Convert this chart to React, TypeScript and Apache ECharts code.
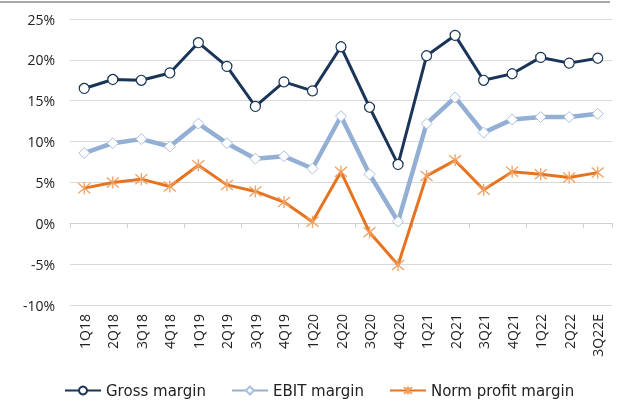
import React, { useEffect, useRef } from "react";
import * as echarts from "echarts";

const categories = ["1Q18","2Q18","3Q18","4Q18","1Q19","2Q19","3Q19","4Q19","1Q20","2Q20","3Q20","4Q20","1Q21","2Q21","3Q21","4Q21","1Q22","2Q22","3Q22E"];
const grossMargin = [16.5,17.6,17.5,18.4,22.1,19.2,14.3,17.3,16.2,21.6,14.2,7.2,20.5,23.0,17.5,18.3,20.3,19.6,20.2];
const ebitMargin = [8.6,9.8,10.3,9.4,12.2,9.8,7.9,8.2,6.7,13.1,6.0,0.2,12.2,15.4,11.1,12.7,13.0,13.0,13.4];
const normProfitMargin = [4.3,5.0,5.4,4.5,7.1,4.7,3.9,2.6,0.2,6.3,-1.1,-5.1,5.8,7.7,4.1,6.3,6.0,5.6,6.2];
const yTicks = { min: -10, max: 25, interval: 5 };

const FONT = "'Open Sans', sans-serif";
const LEGEND_FONT = "'DejaVu Sans', sans-serif";
const STAR = "path://M0,0L10,10M10,0L0,10M5,-1L5,11";

export default function App() {
  const ref = useRef<HTMLDivElement>(null);
  useEffect(() => {
    if (!ref.current) return;
    const chart = echarts.init(ref.current, null, { renderer: "svg" });
    chart.setOption({
      animation: false,
      textStyle: { fontFamily: FONT },
      grid: { left: 70, right: 9, top: 19, bottom: 98 },
      graphic: [
        { type: "line", shape: { x1: 0, y1: 2, x2: 610, y2: 2 }, style: { stroke: "#8c8c8c", lineWidth: 1.5 } },
      ],
      legend: {
        top: 383,
        left: 64,
        padding: 0,
        itemWidth: 36,
        itemHeight: 10,
        itemGap: 25,
        textStyle: { fontFamily: LEGEND_FONT, fontSize: 15, color: "#222" },
        data: ["Gross margin", "EBIT margin", "Norm profit margin"],
      },
      xAxis: [
        {
          type: "category",
          data: categories,
          axisLine: { onZero: true, lineStyle: { color: "#d0d0d0", width: 1 } },
          axisTick: { show: true, alignWithLabel: false, length: 5, lineStyle: { color: "#d0d0d0" } },
          axisLabel: { show: false },
        },
        {
          type: "category",
          data: categories,
          position: "bottom",
          axisLine: { show: false, onZero: false },
          axisTick: { show: false },
          axisLabel: { rotate: 90, margin: 9, fontSize: 14, color: "#222", fontFamily: FONT, interval: 0 },
        },
      ],
      yAxis: {
        type: "value",
        min: yTicks.min,
        max: yTicks.max,
        interval: yTicks.interval,
        axisLine: { show: false },
        axisTick: { show: false },
        axisLabel: { formatter: "{value}%", fontSize: 14, color: "#222", margin: 15, fontFamily: FONT },
        splitLine: { lineStyle: { color: "#d9d9d9", width: 1 } },
      },
      series: [
        {
          name: "Gross margin",
          type: "line",
          xAxisIndex: 0,
          data: grossMargin,
          symbol: "circle",
          symbolSize: 10,
          lineStyle: { color: "#1a3557", width: 3 },
          itemStyle: { color: "#ffffff", borderColor: "#1a3557", borderWidth: 1.2 },
          z: 4,
        },
        {
          name: "EBIT margin",
          type: "line",
          xAxisIndex: 0,
          data: ebitMargin,
          symbol: "diamond",
          symbolSize: 11,
          lineStyle: { color: "#93afd4", width: 4.5 },
          itemStyle: { color: "#ffffff", borderColor: "#a9c0de", borderWidth: 1 },
          z: 3,
        },
        {
          name: "Norm profit margin",
          type: "line",
          xAxisIndex: 0,
          data: normProfitMargin,
          symbol: STAR,
          symbolSize: 12,
          lineStyle: { color: "#e8731f", width: 3 },
          itemStyle: { color: "none", borderColor: "#f0a060", borderWidth: 1.3 },
          z: 2,
        },
      ],
    });
    return () => chart.dispose();
  }, []);
  return <div ref={ref} style={{ position: "fixed", left: 0, top: 0, width: 621, height: 403 }} />;
}
